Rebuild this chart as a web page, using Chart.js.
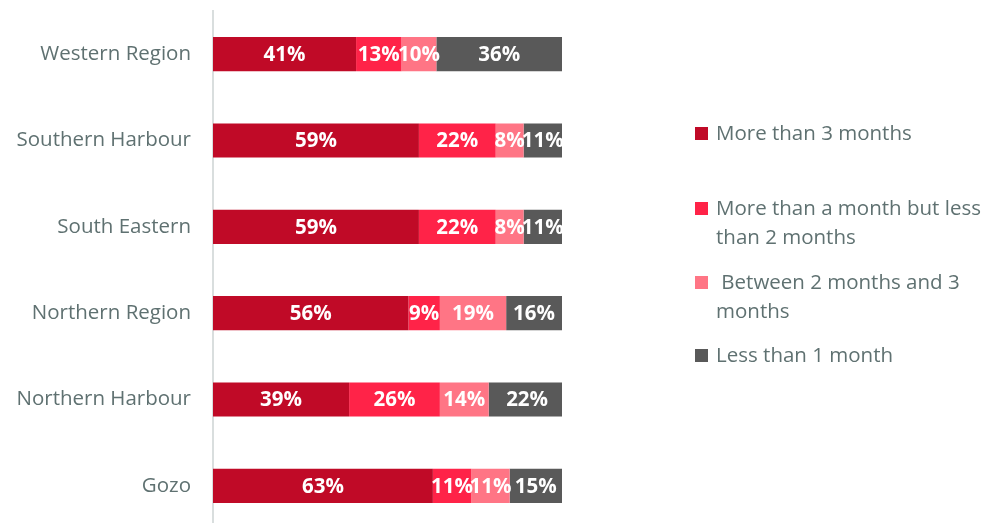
<!DOCTYPE html>
<html>
<head>
<meta charset="utf-8">
<script src="https://cdn.jsdelivr.net/npm/chart.js@4/dist/chart.umd.min.js"></script>
<style>
  html, body { margin: 0; padding: 0; background: #fff; overflow: hidden; }
  #wrap { position: relative; width: 990px; height: 523px; }
  #chartBox { position: absolute; left: 0; top: 0; width: 990px; height: 529px; }
  #legend { position: absolute; left: 695px; top: 0; font-family: "Open Sans", sans-serif; font-size: 20.5px; color: #5f7171; }
  .item { position: absolute; left: 0; width: 295px; line-height: 29px; }
  .item span.box { position: absolute; left: 0; top: 9px; width: 13px; height: 13px; }
  .item div.txt { padding-left: 21px; white-space: pre-wrap; }
</style>
</head>
<body>
<div id="wrap">
  <div id="chartBox"><canvas id="Duration"></canvas></div>
  <div id="legend"></div>
</div>
<script>
const regions = ["Western Region", "Southern Harbour", "South Eastern", "Northern Region", "Northern Harbour", "Gozo"];
const seriesNames = ["More than 3 months", "More than a month but less than 2 months", " Between 2 months and 3 months", "Less than 1 month"];
const moreThan3 = [41, 59, 59, 56, 39, 63];
const oneToTwo = [13, 22, 22, 9, 26, 11];
const twoToThree = [10, 8, 8, 19, 14, 11];
const lessThan1 = [36, 11, 11, 16, 22, 15];
const colors = ["#c00a27", "#ff2348", "#ff7585", "#595959"];
// top of each legend entry, in px
const legendTops = [118, 193, 267, 340];

const values = [moreThan3, oneToTwo, twoToThree, lessThan1];

const legend = document.getElementById("legend");
seriesNames.forEach((name, i) => {
    const item = document.createElement("div");
    item.className = "item";
    item.style.top = legendTops[i] + "px";
    item.innerHTML = '<span class="box" style="background:' + colors[i] + '"></span><div class="txt"></div>';
    item.querySelector(".txt").textContent = name;
    legend.appendChild(item);
});

// writes the percentage in the middle of each segment
const segmentLabels = {
    id: "segmentLabels",
    afterDatasetsDraw(chart) {
        const ctx = chart.ctx;
        ctx.save();
        ctx.font = "bold 20.5px 'Open Sans', sans-serif";
        ctx.fillStyle = "#ffffff";
        ctx.textAlign = "center";
        ctx.textBaseline = "middle";
        chart.data.datasets.forEach((ds, di) => {
            chart.getDatasetMeta(di).data.forEach((bar, i) => {
                const p = bar.getProps(["x", "y", "base"], true);
                ctx.fillText(ds.data[i] + "%", (p.x + p.base) / 2, p.y + 1);
            });
        });
        ctx.restore();
    }
};

new Chart("Duration", {
    type: "bar",
    data: {
        labels: regions,
        datasets: values.map((data, i) => ({
            label: seriesNames[i],
            data,
            backgroundColor: colors[i],
            barPercentage: 0.79,
            categoryPercentage: 0.5,
            clip: 0
        }))
    },
    options: {
        indexAxis: "y",
        responsive: true,
        maintainAspectRatio: false,
        animation: false,
        layout: { padding: { top: 11, right: 428, bottom: 0, left: 0 } },
        plugins: {
            legend: { display: false },
            tooltip: { enabled: false }
        },
        scales: {
            x: {
                stacked: true,
                min: 0,
                max: 100,
                display: false
            },
            y: {
                stacked: true,
                grid: { display: false, drawTicks: false },
                border: { display: true, color: "#d9dede", width: 2 },
                ticks: {
                    color: "#5f7171",
                    padding: 22,
                    font: { family: "'Open Sans', sans-serif", size: 20.5 }
                },
                afterFit(scale) {
                    scale.width = 213;
                    scale.paddingTop = 0;
                    scale.paddingBottom = 0;
                }
            }
        }
    },
    plugins: [segmentLabels]
});
</script>
</body>
</html>
